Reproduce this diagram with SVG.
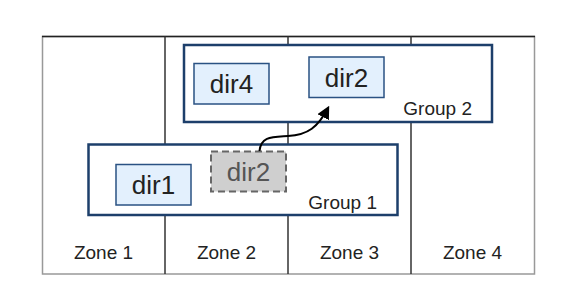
<svg xmlns="http://www.w3.org/2000/svg" width="561" height="293" viewBox="0 0 561 293">
<defs>
<style>
.zone{fill:none;stroke:#333;stroke-width:1.5}
.grp{fill:#fff;stroke:#1d3f6b;stroke-width:2.5}
.dir{fill:#e3f0fd;stroke:#2a5283;stroke-width:1.5}
.ghost{fill:#cfcfcf;stroke:#666;stroke-width:2;stroke-dasharray:7 4}
.t{font-family:"Liberation Sans",Arial,sans-serif;fill:#222}
.zl{font-size:19px;text-anchor:middle}
.gl{font-size:19px;text-anchor:end}
.dl{font-size:26px;text-anchor:middle}
.conn{fill:none;stroke:#000;stroke-width:2}
</style>
<marker id="ah" viewBox="0 0 10 10" refX="8" refY="5" markerWidth="6.5" markerHeight="6.5" orient="auto" markerUnits="strokeWidth">
<path d="M0,0 L10,5 L0,10 z" fill="#000"/>
</marker>
</defs>
<rect width="561" height="293" fill="#fff"/>
<g id="zones">
<rect x="42.5" y="36.5" width="492" height="237.5" fill="#fff" stroke="#999" stroke-width="1.5"/>
<line x1="42" y1="36.5" x2="535" y2="36.5" stroke="#222" stroke-width="1.5"/>
<line class="zone" x1="165" y1="36.5" x2="165" y2="274"/>
<line class="zone" x1="288" y1="36.5" x2="288" y2="274"/>
<line class="zone" x1="411" y1="36.5" x2="411" y2="274"/>
<text class="t zl" x="103.5" y="259">Zone 1</text>
<text class="t zl" x="226.5" y="259">Zone 2</text>
<text class="t zl" x="349.5" y="259">Zone 3</text>
<text class="t zl" x="472.5" y="259">Zone 4</text>
</g>
<g id="group2">
<rect class="grp" x="184" y="45" width="308" height="77"/>
<text class="t gl" x="472" y="115">Group 2</text>
</g>
<g id="group1">
<rect class="grp" x="88.5" y="144.5" width="309" height="70.5"/>
<text class="t gl" x="377" y="208.5">Group 1</text>
</g>
<g id="dir4">
<rect class="dir" x="194" y="63.5" width="75" height="40.5"/>
<text class="t dl" x="231.5" y="93">dir4</text>
</g>
<g id="dir2-new">
<rect class="dir" x="309" y="57" width="75" height="40.5"/>
<text class="t dl" x="346.5" y="86.5">dir2</text>
</g>
<g id="dir1">
<rect class="dir" x="116" y="164.5" width="75" height="40.5"/>
<text class="t dl" x="153.5" y="194">dir1</text>
</g>
<g id="dir2-old">
<rect class="ghost" x="211" y="151.5" width="75" height="40"/>
<text class="t dl" x="248.5" y="180.5" style="fill:#555">dir2</text>
</g>
<g id="connectors">
<path class="conn" d="M259.5,151 C261,136 272,137 288,136 C308,135 318,127 328,108" marker-end="url(#ah)"/>
</g>
</svg>
